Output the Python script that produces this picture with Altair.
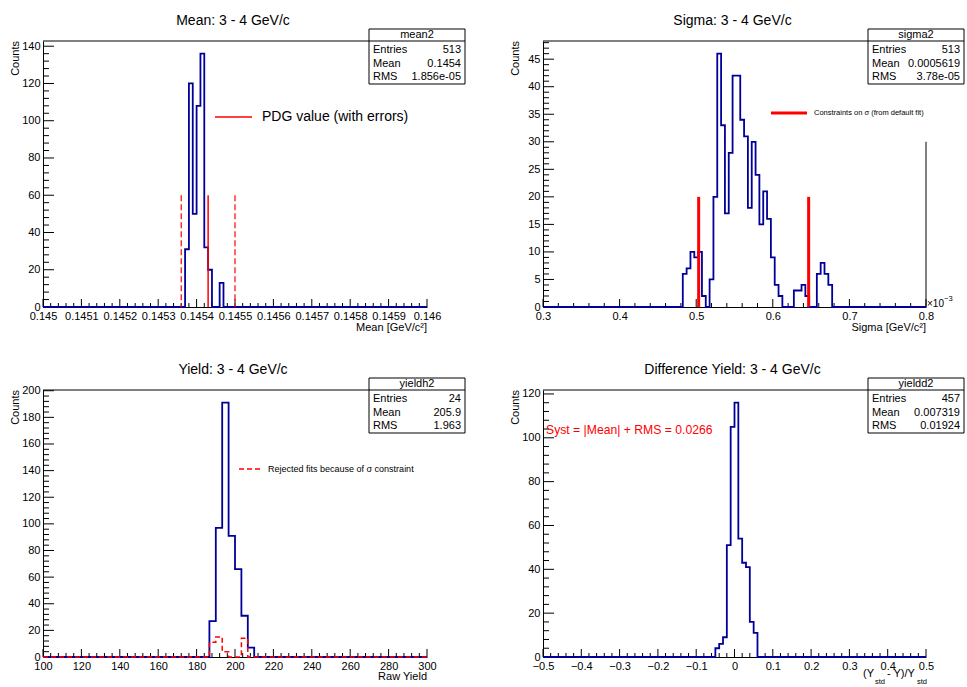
import altair as alt
import pandas as pd

FONT = "Liberation Sans"
BLUE = "#000099"
RED = "#ff0000"

# ---------------- data ----------------
# Mean panel
mean_range = [0.145, 0.146]
mean_first = 0.14537
mean_binw = 0.00001
mean_counts = [31, 120, 50, 108, 136, 32, 20, 0, 0, 13]
mean_ymax = 142.8
mean_xticks = [0.145, 0.1451, 0.1452, 0.1453, 0.1454, 0.1455, 0.1456, 0.1457, 0.1458, 0.1459, 0.146]
mean_yticks = [0, 20, 40, 60, 80, 100, 120, 140]
pdg_value = 0.14543
pdg_bounds = [0.14536, 0.14550]
pdg_height = 60
mean_stats = [("Entries", "513"), ("Mean", "0.1454"), ("RMS", "1.856e-05")]

# Sigma panel (units of 1e-3)
sigma_range = [0.3, 0.8]
sigma_first = 0.4825
sigma_binw = 0.005
sigma_counts = [6, 7, 10, 9, 10, 2, 0, 5, 20, 46, 33, 17, 28, 42, 42, 34, 31, 18, 30, 24,
                15, 21, 16, 9, 4, 2, 0, 0, 0, 3, 3, 4, 2, 0, 0, 6, 8, 6, 4]
sigma_ymax = 48.3
sigma_xticks = [0.3, 0.4, 0.5, 0.6, 0.7, 0.8]
sigma_yticks = [0, 5, 10, 15, 20, 25, 30, 35, 40, 45]
sigma_limits = [0.5032, 0.6468]
sigma_limit_height = 20
sigma_edge_height = 30
sigma_stats = [("Entries", "513"), ("Mean", "0.0005619"), ("RMS", "3.78e-05")]

# Yield panel
yield_range = [100, 300]
yield_first = 560 / 3
yield_binw = 10 / 3
yield_counts = [27, 97, 191, 91, 66, 31, 7]
rejected_counts = [11, 15, 4, 0, 0, 14, 0]
yield_ymax = 200.55
yield_xticks = [100, 120, 140, 160, 180, 200, 220, 240, 260, 280, 300]
yield_yticks = [0, 20, 40, 60, 80, 100, 120, 140, 160, 180, 200]
yield_stats = [("Entries", "24"), ("Mean", "205.9"), ("RMS", "1.963")]

# Difference panel
diff_range = [-0.5, 0.5]
diff_first = -0.05
diff_binw = 0.01
diff_counts = [4, 6, 9, 51, 105, 116, 54, 43, 41, 16, 11]
diff_ymax = 121.8
diff_xticks = [-0.5, -0.4, -0.3, -0.2, -0.1, 0, 0.1, 0.2, 0.3, 0.4, 0.5]
diff_yticks = [0, 20, 40, 60, 80, 100, 120]
diff_stats = [("Entries", "457"), ("Mean", "0.007319"), ("RMS", "0.01924")]


# ---------------- helpers ----------------
def one():
    return alt.Data(values=[{"a": 0}])


def hist_table(first, binw, counts, lo, hi):
    xs, ys = [lo], [0]
    for i, c in enumerate(counts):
        xs.append(first + i * binw)
        ys.append(c)
    xs.append(first + len(counts) * binw)
    ys.append(0)
    xs.append(hi)
    ys.append(0)
    return pd.DataFrame({"x": xs, "y": ys, "o": list(range(len(xs)))})


def minor_ticks(ticks, n, lo, hi):
    step = (ticks[1] - ticks[0]) / n
    out = []
    v = ticks[0] - step
    while v >= lo - 1e-12:
        out.append(v)
        v -= step
    for a, b in zip(ticks[:-1], ticks[1:]):
        for k in range(1, n):
            out.append(a + (b - a) * k / n)
    v = ticks[-1] + step
    while v <= hi + 1e-12:
        out.append(v)
        v += step
    return out


def text(t, x, y, size=11, align="left", color="black", angle=0, baseline="middle"):
    kw = dict(text=t, font=FONT, fontSize=size, align=align, baseline=baseline, color=color)
    if angle:
        kw["angle"] = angle
    return alt.Chart(one()).mark_text(**kw).encode(x=alt.value(x), y=alt.value(y))


def hline(x1, x2, y, color="black", width=1, dash=None):
    kw = dict(color=color, strokeWidth=width)
    if dash:
        kw["strokeDash"] = dash
    return alt.Chart(one()).mark_rule(**kw).encode(x=alt.value(x1), x2=alt.value(x2), y=alt.value(y))


def panel(W, H, xdom, ymax, xticks, yticks, xfmt, title, stats_name, stats, extra_layers,
          hist_layers, xminor_n=5, yminor_n=5, anchor=False):
    xs = alt.Scale(domain=xdom, nice=False, zero=False)
    ys = alt.Scale(domain=[0, ymax], nice=False, zero=True)
    xax = alt.Axis(values=xticks, format=xfmt, title=None, ticks=False, grid=False,
                   labelPadding=3, labelFlush=False, labelOverlap=False, labelBound=False,
                   labelFont=FONT, labelFontSize=11, labelColor="black",
                   domainColor="black", domainWidth=1)
    yax = alt.Axis(values=yticks, format="d", title=None, ticks=False, grid=False,
                   labelPadding=3, labelFlush=False, labelOverlap=False,
                   labelFont=FONT, labelFontSize=11, labelColor="black",
                   domainColor="black", domainWidth=1)
    X = lambda f: alt.X(f, type="quantitative", scale=xs, axis=xax)
    Y = lambda f: alt.Y(f, type="quantitative", scale=ys, axis=yax)

    layers = []
    if anchor:
        layers.append(alt.Chart(one()).mark_rect(opacity=0).encode(
            x=alt.value(-43), x2=alt.value(0), y=alt.value(-41), y2=alt.value(0)))

    xmaj = pd.DataFrame({"v": xticks})
    xmin = pd.DataFrame({"v": minor_ticks(xticks, xminor_n, xdom[0], xdom[1])})
    ymaj = pd.DataFrame({"v": yticks})
    ymin = pd.DataFrame({"v": minor_ticks(yticks, yminor_n, 0, ymax)})
    layers.append(alt.Chart(xmaj).mark_rule(color="black", strokeWidth=1).encode(
        x=X("v"), y=alt.value(H), y2=alt.value(H - 8)))
    layers.append(alt.Chart(xmin).mark_rule(color="black", strokeWidth=1).encode(
        x=X("v"), y=alt.value(H), y2=alt.value(H - 4)))
    layers.append(alt.Chart(ymaj).mark_rule(color="black", strokeWidth=1).encode(
        y=Y("v"), x=alt.value(0), x2=alt.value(11)))
    layers.append(alt.Chart(ymin).mark_rule(color="black", strokeWidth=1).encode(
        y=Y("v"), x=alt.value(0), x2=alt.value(6)))

    for df, color, width, dash in hist_layers:
        kw = dict(color=color, strokeWidth=width, interpolate="step-after")
        if dash:
            kw["strokeDash"] = dash
        layers.append(alt.Chart(df).mark_line(**kw).encode(x=X("x"), y=Y("y"), order="o:Q"))

    for lay in extra_layers:
        layers.append(lay(X, Y))

    # frame top
    box_l = W - 58
    layers.append(hline(0, box_l, 0))
    # title
    layers.append(text(title, W / 2 - 2, -20, size=14, align="center"))
    # y title
    layers.append(text("Counts", -27, 0, size=11, align="right", angle=270))
    # stats box
    layers.append(alt.Chart(one()).mark_rect(fill="white", stroke="black", strokeWidth=1).encode(
        x=alt.value(box_l), x2=alt.value(box_l + 96), y=alt.value(-12), y2=alt.value(43)))
    layers.append(hline(box_l, box_l + 96, 0))
    layers.append(text(stats_name, box_l + 48, -6, size=11, align="center"))
    for i, (k, v) in enumerate(stats):
        yy = 9 + 13.5 * i
        layers.append(text(k, box_l + 4, yy, size=11))
        layers.append(text(v, box_l + 92, yy, size=11, align="right"))

    return alt.layer(*layers).properties(width=W, height=H)


# ---------------- panels ----------------
mean_hist = hist_table(mean_first, mean_binw, mean_counts, *mean_range)
pdg_df = pd.DataFrame({"x": [pdg_value], "h": [pdg_height]})
pdg_err_df = pd.DataFrame({"x": pdg_bounds, "h": [pdg_height] * 2})


def mean_extra_rules(X, Y):
    return alt.layer(
        alt.Chart(pdg_err_df).mark_rule(color=RED, strokeWidth=1.2, strokeDash=[6, 3]).encode(
            x=X("x"), y=Y("h"), y2=alt.datum(0)),
        alt.Chart(pdg_df).mark_rule(color=RED, strokeWidth=1.5).encode(
            x=X("x"), y=Y("h"), y2=alt.datum(0)),
    )


p1 = panel(384, 266, mean_range, mean_ymax, mean_xticks, mean_yticks, ".4~f",
           "Mean: 3 - 4 GeV/c", "mean2", mean_stats,
           [mean_extra_rules,
            lambda X, Y: hline(172, 209, 76, color=RED, width=1.5),
            lambda X, Y: text("PDG value (with errors)", 219, 76, size=14),
            lambda X, Y: text("Mean [GeV/c\u00b2]", 384, 287, size=11, align="right")],
           [(mean_hist, BLUE, 1.8, None)], anchor=True)

sigma_hist = hist_table(sigma_first, sigma_binw, sigma_counts, *sigma_range)
sig_lim_df = pd.DataFrame({"x": sigma_limits, "h": [sigma_limit_height] * 2})
sig_edge_df = pd.DataFrame({"x": [sigma_range[1]], "h": [sigma_edge_height]})

p2 = panel(383, 266, sigma_range, sigma_ymax, sigma_xticks, sigma_yticks, ".1f",
           "Sigma: 3 - 4 GeV/c", "sigma2", sigma_stats,
           [lambda X, Y: alt.Chart(sig_lim_df).mark_rule(color=RED, strokeWidth=3).encode(
               x=X("x"), y=Y("h"), y2=alt.datum(0)),
            lambda X, Y: alt.Chart(sig_edge_df).mark_rule(color="black", strokeWidth=1).encode(
               x=X("x"), y=Y("h"), y2=alt.datum(0)),
            lambda X, Y: hline(228, 264, 72, color=RED, width=3),
            lambda X, Y: text("Constraints on \u03c3 (from default fit)", 271, 72, size=7.5),
            lambda X, Y: text("\u00d710", 384, 263, size=10),
            lambda X, Y: text("\u22123", 401, 258, size=7.5),
            lambda X, Y: text("Sigma [GeV/c\u00b2]", 383, 287, size=11, align="right")],
           [(sigma_hist, BLUE, 1.8, None)])

yield_hist = hist_table(yield_first, yield_binw, yield_counts, *yield_range)
rej_hist = hist_table(yield_first, yield_binw, rejected_counts, *yield_range)

p3 = panel(384, 267, yield_range, yield_ymax, yield_xticks, yield_yticks, "d",
           "Yield: 3 - 4 GeV/c", "yieldh2", yield_stats,
           [lambda X, Y: hline(196, 218, 79, color=RED, width=1.5, dash=[5, 3]),
            lambda X, Y: text("Rejected fits because of \u03c3 constraint", 225, 79, size=9),
            lambda X, Y: text("Raw Yield", 384, 287, size=11, align="right")],
           [(yield_hist, BLUE, 1.8, None), (rej_hist, RED, 1.5, [5, 3])])

diff_hist = hist_table(diff_first, diff_binw, diff_counts, *diff_range)

p4 = panel(383, 267, diff_range, diff_ymax, diff_xticks, diff_yticks, ".1~f",
           "Difference Yield: 3 - 4 GeV/c", "yieldd2", diff_stats,
           [lambda X, Y: text("Syst = |Mean| + RMS = 0.0266", 3, 40, size=12.2, color=RED),
            lambda X, Y: text("(Y", 320, 284, size=11),
            lambda X, Y: text("std", 332, 292, size=7.5),
            lambda X, Y: text(" - Y)/Y", 344, 284, size=11),
            lambda X, Y: text("std", 374, 292, size=7.5)],
           [(diff_hist, BLUE, 1.8, None)])

chart = alt.concat(p1, p2, p3, p4, columns=2, spacing=alt.RowColnumber(row=83, column=116),
                   bounds="flush").properties(padding=0).configure_view(stroke=None)

chart.save("out.html", embed_options={"renderer": "svg", "actions": False})
